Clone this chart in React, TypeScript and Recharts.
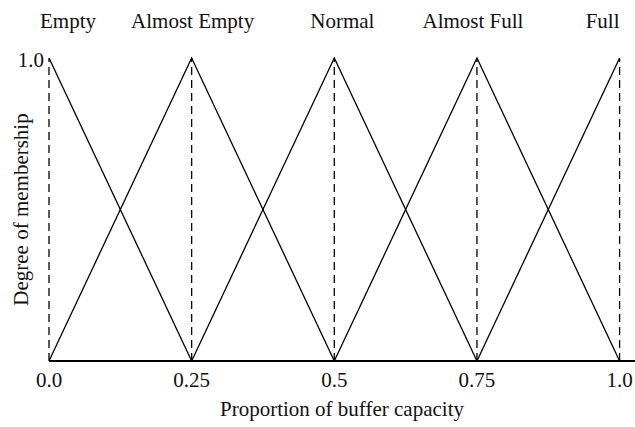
import { Label, Line, LineChart, ReferenceLine, XAxis, YAxis } from "recharts";

// membership function breakpoints on the x axis
const xPoints = [0, 0.25, 0.5, 0.75, 1.0];
const tickLabels = ["0.0", "0.25", "0.5", "0.75", "1.0"];

const categories = ["Empty", "Almost Empty", "Normal", "Almost Full", "Full"];
const peaks = [0, 0.25, 0.5, 0.75, 1.0];

// degree of membership at each breakpoint (null = outside the triangle)
const empty = [1, 0, null, null, null];
const almostEmpty = [0, 1, 0, null, null];
const normal = [null, 0, 1, 0, null];
const almostFull = [null, null, 0, 1, 0];
const full = [null, null, null, 0, 1];

const seriesKeys = ["empty", "almostEmpty", "normal", "almostFull", "full"];

const data = xPoints.map((x, i) => ({
  x,
  empty: empty[i],
  almostEmpty: almostEmpty[i],
  normal: normal[i],
  almostFull: almostFull[i],
  full: full[i],
}));

// nudges so the top labels sit like the original
const labelShift = [19, 1, 8, -4, -17];

const font = '"Liberation Serif", "Times New Roman", serif';
const fontSize = 21;

export default function App() {
  return (
    <div style={{ position: "absolute", left: 0, top: 0, background: "#fff" }}>
      <LineChart
        width={635}
        height={427}
        data={data}
        margin={{ top: 58, right: 0, bottom: 6, left: 0 }}
        style={{ fontFamily: font }}
      >
        <XAxis
          dataKey="x"
          type="number"
          domain={[0, 1.027]}
          ticks={xPoints}
          tickFormatter={(v: number) => tickLabels[xPoints.indexOf(v)] ?? ""}
          tick={{ fill: "#111", fontSize, fontFamily: font }}
          tickLine={false}
          tickSize={0}
          tickMargin={11}
          axisLine={{ stroke: "#000", strokeWidth: 2 }}
          height={60}
          allowDataOverflow
        >
          <Label
            value="Proportion of buffer capacity"
            position="insideBottom"
            offset={5}
            style={{ fill: "#111", fontSize, fontFamily: font }}
          />
        </XAxis>
        <YAxis
          type="number"
          domain={[0, 1]}
          ticks={[1]}
          tickFormatter={() => "1.0"}
          tick={{ fill: "#111", fontSize, fontFamily: font, dy: 2 }}
          tickLine={false}
          tickSize={0}
          tickMargin={5}
          axisLine={false}
          width={49}
        >
          <Label
            value="Degree of membership"
            angle={-90}
            position="insideLeft"
            dx={16}
            style={{ fill: "#111", fontSize, fontFamily: font, textAnchor: "middle" }}
          />
        </YAxis>
        {peaks.map((p, i) => (
          <ReferenceLine
            key={categories[i]}
            x={p}
            stroke="#000"
            strokeWidth={1.3}
            strokeDasharray="8 5"
            ifOverflow="visible"
            label={{
              value: categories[i],
              position: "top",
              offset: 30,
              dx: labelShift[i],
              fill: "#111",
              fontSize,
              fontFamily: font,
            }}
          />
        ))}
        {seriesKeys.map((k) => (
          <Line
            key={k}
            dataKey={k}
            type="linear"
            stroke="#000"
            strokeWidth={1.3}
            dot={false}
            activeDot={false}
            isAnimationActive={false}
          />
        ))}
      </LineChart>
    </div>
  );
}
